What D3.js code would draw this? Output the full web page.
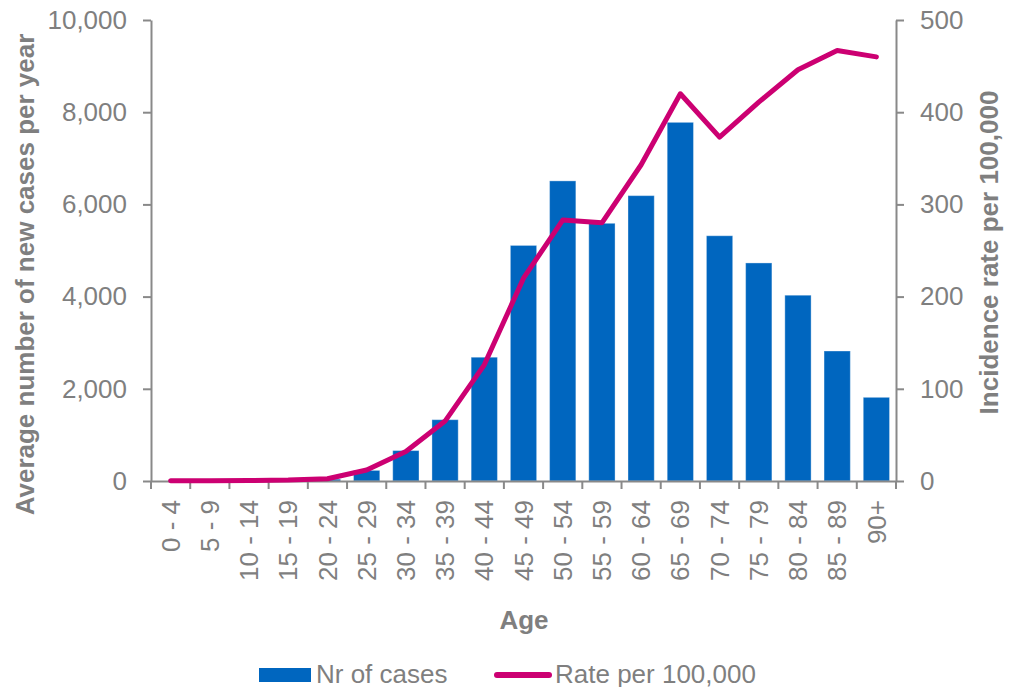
<!DOCTYPE html>
<html>
<head>
<meta charset="utf-8">
<script src="https://cdn.jsdelivr.net/npm/d3@7"></script>
<style>
  body { margin: 0; background: #fff; }
  text { font-family: "Liberation Sans", Arial, sans-serif; fill: #7f7f7f; }
</style>
</head>
<body>
<div id="chart"></div>
<script>
// data
const ageGroups = ["0 - 4", "5 - 9", "10 - 14", "15 - 19", "20 - 24", "25 - 29", "30 - 34",
  "35 - 39", "40 - 44", "45 - 49", "50 - 54", "55 - 59", "60 - 64", "65 - 69",
  "70 - 74", "75 - 79", "80 - 84", "85 - 89", "90+"];
const nrCases = [0, 0, 5, 15, 40, 230, 660, 1330, 2685, 5110, 6510, 5590, 6190, 7780,
  5320, 4730, 4030, 2820, 1815];
const ratePer100k = [0.2, 0.3, 0.5, 1, 2.5, 12, 32, 65, 126, 220, 283, 280, 343, 420,
  373, 411, 446, 467, 460];
const leftTicks = [0, 2000, 4000, 6000, 8000, 10000];
const rightTicks = [0, 100, 200, 300, 400, 500];

const svgWidth = 1011, svgHeight = 687;
const margin = { top: 20, right: 115, bottom: 206, left: 151 };
const plotRight = svgWidth - margin.right;
const plotBottom = svgHeight - margin.bottom;

const axisColor = "#898989";
const barColor = "#0066bf";
const lineColor = "#cc0072";

const svg = d3.select("#chart")
  .append("svg")
  .attr("width", svgWidth)
  .attr("height", svgHeight);

// scales
const x = d3.scaleBand()
  .domain(ageGroups)
  .range([margin.left, plotRight])
  .paddingInner(0.33)
  .paddingOuter(0.165);

const yLeft = d3.scaleLinear().domain([0, 10000]).range([plotBottom, margin.top]);
const yRight = d3.scaleLinear().domain([0, 500]).range([plotBottom, margin.top]);

// bars
svg.append("g")
  .selectAll("rect")
  .data(nrCases)
  .enter()
  .append("rect")
  .attr("x", (d, i) => x(ageGroups[i]))
  .attr("y", d => yLeft(d))
  .attr("width", x.bandwidth())
  .attr("height", d => plotBottom - yLeft(d))
  .attr("fill", barColor)
  .attr("stroke", "rgba(255,255,255,0.35)")
  .attr("stroke-width", 1);

// axes
function styleAxis(g) {
  g.selectAll("path, line").attr("stroke", axisColor).attr("stroke-width", 2);
  g.selectAll("text")
    .attr("font-family", "'Liberation Sans', Arial, sans-serif")
    .attr("font-size", 26)
    .attr("fill", "#7f7f7f");
}

svg.append("g")
  .attr("transform", `translate(${margin.left},0)`)
  .call(d3.axisLeft(yLeft).tickValues(leftTicks).tickFormat(d3.format(","))
    .tickSize(8).tickSizeOuter(0).tickPadding(16))
  .call(styleAxis);

svg.append("g")
  .attr("transform", `translate(${plotRight},0)`)
  .call(d3.axisRight(yRight).tickValues(rightTicks).tickSize(8).tickSizeOuter(0).tickPadding(16))
  .call(styleAxis);

// category axis: line, ticks between groups, rotated labels
const xAxis = svg.append("g")
  .attr("transform", `translate(0,${plotBottom})`)
  .call(d3.axisBottom(x).tickSize(0).tickSizeOuter(0).tickFormat(""));
xAxis.selectAll(".tick").remove();

const edges = d3.range(ageGroups.length + 1).map(i => x.range()[0] + i * x.step());
xAxis.selectAll("line.sep")
  .data(edges)
  .enter()
  .append("line")
  .attr("class", "sep")
  .attr("x1", d => d).attr("x2", d => d)
  .attr("y1", 0).attr("y2", 8);
xAxis.call(styleAxis);

svg.append("g")
  .selectAll("text")
  .data(ageGroups)
  .enter()
  .append("text")
  .attr("transform", d => `translate(${x(d) + x.bandwidth() / 2},${plotBottom + 19}) rotate(-90)`)
  .attr("text-anchor", "end")
  .attr("dy", "0.35em")
  .attr("font-size", 26)
  .text(d => d);

// rate line
const line = d3.line()
  .x((d, i) => x(ageGroups[i]) + x.bandwidth() / 2)
  .y(d => yRight(d));

svg.append("path")
  .datum(ratePer100k)
  .attr("d", line)
  .attr("fill", "none")
  .attr("stroke", lineColor)
  .attr("stroke-width", 5)
  .attr("stroke-linejoin", "round")
  .attr("stroke-linecap", "round");

// axis titles
svg.append("text")
  .attr("transform", `translate(34, ${(margin.top + plotBottom) / 2 + 24}) rotate(-90)`)
  .attr("text-anchor", "middle")
  .attr("font-size", 26)
  .attr("font-weight", "bold")
  .text("Average number of new cases per year");

svg.append("text")
  .attr("transform", `translate(998, ${(margin.top + plotBottom) / 2 + 2}) rotate(-90)`)
  .attr("text-anchor", "middle")
  .attr("font-size", 26)
  .attr("font-weight", "bold")
  .text("Incidence rate per 100,000");

svg.append("text")
  .attr("x", 524)
  .attr("y", 629)
  .attr("text-anchor", "middle")
  .attr("font-size", 26)
  .attr("font-weight", "bold")
  .text("Age");

// legend
const legend = svg.append("g");
legend.append("rect")
  .attr("x", 259).attr("y", 668)
  .attr("width", 52).attr("height", 14)
  .attr("fill", barColor);
legend.append("text")
  .attr("x", 316).attr("y", 682.5)
  .attr("font-size", 26)
  .text("Nr of cases");
legend.append("line")
  .attr("x1", 497).attr("x2", 549)
  .attr("y1", 675).attr("y2", 675)
  .attr("stroke", lineColor)
  .attr("stroke-width", 6)
  .attr("stroke-linecap", "round");
legend.append("text")
  .attr("x", 555).attr("y", 682.5)
  .attr("font-size", 26)
  .text("Rate per 100,000");
</script>
</body>
</html>
